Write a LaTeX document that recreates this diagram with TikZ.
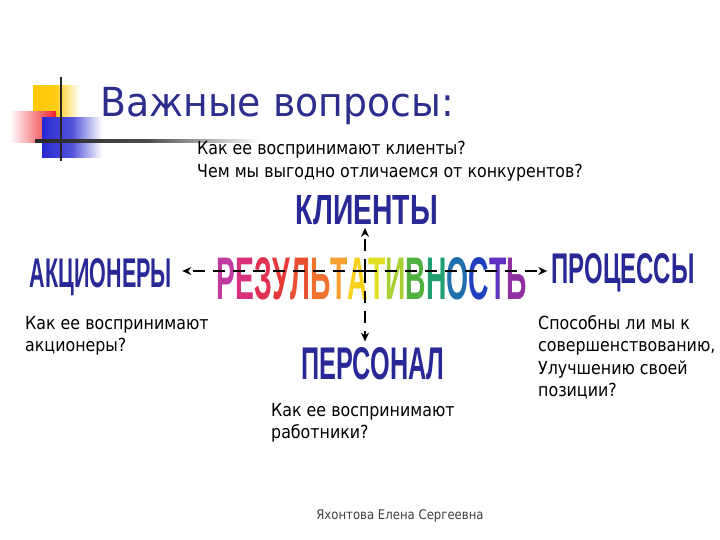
\documentclass[tikz,border=0pt]{standalone}
\usepackage{fontspec}
\setmainfont{DejaVu Sans}[FakeStretch=0.88]
\newfontfamily\titlefont{DejaVu Sans}[FakeStretch=0.945]
\newfontfamily\artfont{Liberation Sans}
\usetikzlibrary{arrows.meta}

\definecolor{titleblue}{RGB}{45,45,140}
\definecolor{artblue}{RGB}{40,40,150}
\definecolor{logoyellow}{RGB}{255,200,0}
\definecolor{logored}{RGB}{240,30,40}
\definecolor{logoblue}{RGB}{40,40,210}

% WordArt-like text squeezed into a box: width, height, text
\newcommand\wordart[3]{\resizebox{#1pt}{#2pt}{\artfont\bfseries #3}}
\newcommand\lt[2]{\textcolor[RGB]{#1}{#2}}

\tikzset{
  art/.style={inner sep=0, text=artblue},
  question/.style={anchor=north west, inner sep=0, align=left,
    font=\fontsize{18}{22.5}\selectfont},
  link/.style={line width=2.4pt, dash pattern=on 12pt off 8pt,
    -{Stealth[length=9pt,width=8pt]}}
}

\begin{document}
\begin{tikzpicture}[x=1pt,y=-1pt]
\useasboundingbox (0,0) rectangle (720,540);

% logo
\shade[left color=logoyellow, right color=white, middle color=logoyellow!90]
  (33,86) rectangle (80,118);
\shade[left color=white, right color=logored] (10,112) rectangle (56,143);
\shade[left color=logoblue, right color=white, middle color=logoblue!80]
  (42,118) rectangle (102,158);
\draw[line width=2.5pt, black!85] (61,77) -- (61,161);
\shade[left color=black!85, right color=white, middle color=black!70]
  (35,139.8) rectangle (260,142.4);

% title
\node[anchor=base west, inner sep=0, text=titleblue,
  font=\titlefont\fontsize{40}{48}\selectfont] (title) at (100,117) {Важные вопросы:};

% the five blocks
\node[art] (klienty) at (367,210) {\wordart{142}{29}{КЛИЕНТЫ}};
\node[art] (akcionery) at (101,277) {\wordart{142}{29}{АКЦИОНЕРЫ}};
\node[art] (processy) at (623,273) {\wordart{143}{30}{ПРОЦЕССЫ}};
\node[art] (personal) at (373,364) {\wordart{143}{32}{ПЕРСОНАЛ}};
\node[inner sep=0] (result) at (372,279) {\wordart{310}{42}{%
  \lt{192,58,160}{Р}\lt{216,48,122}{Е}\lt{226,48,80}{З}\lt{232,56,56}{У}%
  \lt{232,80,48}{Л}\lt{240,112,48}{Ь}\lt{248,160,48}{Т}\lt{248,208,32}{А}%
  \lt{224,224,32}{Т}\lt{168,208,48}{И}\lt{80,176,64}{В}\lt{32,160,112}{Н}%
  \lt{32,112,176}{О}\lt{32,64,192}{С}\lt{96,48,192}{Т}\lt{144,48,160}{Ь}}};

% connectors
\coordinate (hub) at (365,271);
\draw[link, shorten >=10pt] (hub) -- (hub -| akcionery.east);
\draw[link, shorten >=4pt] (hub) -- (hub -| processy.west);
\draw[link, shorten >=3pt] (hub) -- (hub |- klienty.south);
\draw[link, shorten >=6pt] (hub) -- (hub |- personal.north);

% questions
\node[question] (q-klienty) at (197,141) {Как ее воспринимают клиенты?\\
  Чем мы выгодно отличаемся от конкурентов?};
\node[question] (q-akcionery) at (25,316) {Как ее воспринимают\\акционеры?};
\node[question] (q-processy) at (538,315) {Способны ли мы к\\
  совершенствованию,\\Улучшению своей\\позиции?};
\node[question] (q-personal) at (271,403) {Как ее воспринимают\\работники?};

% footer
\node[inner sep=0, text=black!75, font=\fontsize{13.3}{16}\selectfont]
  (author) at (400,516) {Яхонтова Елена Сергеевна};
\end{tikzpicture}
\end{document}
